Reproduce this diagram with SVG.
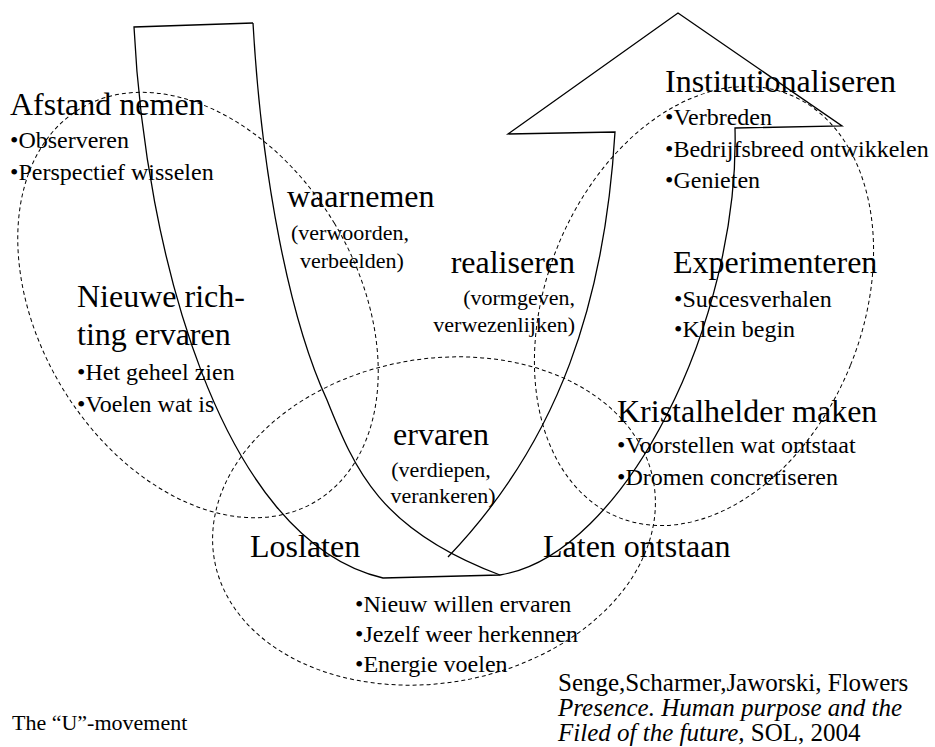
<svg xmlns="http://www.w3.org/2000/svg" width="935" height="747" viewBox="0 0 935 747">
<style>
text{font-family:"Liberation Serif","Times New Roman",serif;fill:#000}
.h{font-size:32px}
.b{font-size:24px}
.s{font-size:22px}
.r{font-size:22px}
.ref{font-size:25px}
.u{fill:none;stroke:#000;stroke-width:1.3;stroke-linejoin:miter}
.d{fill:none;stroke:#000;stroke-width:1;stroke-dasharray:4 3}
</style>
<rect width="935" height="747" fill="#fff"/>
<g id="connectors">
<path class="u" d="M253,23 L134,27 C145,250 220,540 383,578 L500,575 C625,555 740,320 735,128 L842,126 L678,13 L508,134 L615,132 C605,300 560,440 448,557"/>
<path class="u" d="M253,23 C262,180 290,320 327,400 C355,470 380,530 500,575"/>
</g>
<g id="ellipses">
<ellipse class="d" cx="198" cy="305" rx="159" ry="229" transform="rotate(-31 198 305)"/>
<ellipse class="d" cx="434" cy="521" rx="223" ry="162" transform="rotate(-10 434 521)"/>
<ellipse class="d" cx="704" cy="306" rx="158" ry="228" transform="rotate(22 704 306)"/>
</g>
<g id="afstand">
<text class="h" x="10" y="115">Afstand nemen</text>
<text class="b" x="10" y="148">•Observeren</text>
<text class="b" x="10" y="180">•Perspectief wisselen</text>
</g>
<g id="nieuwe">
<text class="h" x="77" y="307">Nieuwe rich-</text>
<text class="h" x="77" y="345">ting ervaren</text>
<text class="b" x="77" y="380">•Het geheel zien</text>
<text class="b" x="77" y="412">•Voelen wat is</text>
</g>
<g id="waarnemen">
<text class="h" x="287" y="207">waarnemen</text>
<text class="s" x="291" y="240">(verwoorden,</text>
<text class="s" x="300" y="268">verbeelden)</text>
</g>
<g id="realiseren">
<text class="h" x="575" y="273" text-anchor="end">realiseren</text>
<text class="s" x="575" y="305" text-anchor="end">(vormgeven,</text>
<text class="s" x="575" y="332" text-anchor="end">verwezenlijken)</text>
</g>
<g id="ervaren">
<text class="h" x="441" y="445" text-anchor="middle">ervaren</text>
<text class="s" x="441" y="477" text-anchor="middle">(verdiepen,</text>
<text class="s" x="443" y="503" text-anchor="middle">verankeren)</text>
</g>
<g id="loslaten">
<text class="h" x="250" y="557">Loslaten</text>
</g>
<g id="laten">
<text class="h" x="543" y="557">Laten ontstaan</text>
</g>
<g id="bottom">
<text class="b" x="355" y="612">•Nieuw willen ervaren</text>
<text class="b" x="355" y="642">•Jezelf weer herkennen</text>
<text class="b" x="355" y="672">•Energie voelen</text>
</g>
<g id="institutionaliseren">
<text class="h" x="665" y="92">Institutionaliseren</text>
<text class="b" x="665" y="125">•Verbreden</text>
<text class="b" x="665" y="157">•Bedrijfsbreed ontwikkelen</text>
<text class="b" x="665" y="188">•Genieten</text>
</g>
<g id="experimenteren">
<text class="h" x="673" y="273">Experimenteren</text>
<text class="b" x="674" y="307">•Succesverhalen</text>
<text class="b" x="674" y="337">•Klein begin</text>
</g>
<g id="kristalhelder">
<text class="h" x="617" y="422">Kristalhelder maken</text>
<text class="b" x="617" y="453">•Voorstellen wat ontstaat</text>
<text class="b" x="617" y="485">•Dromen concretiseren</text>
</g>
<g id="caption">
<text class="r" x="12" y="730">The “U”-movement</text>
</g>
<g id="reference">
<text class="ref" x="558" y="691">Senge,Scharmer,Jaworski, Flowers</text>
<text class="ref" x="558" y="716" font-style="italic">Presence. Human purpose and the</text>
<text class="ref" x="558" y="741"><tspan font-style="italic">Filed of the future,</tspan> SOL, 2004</text>
</g>
</svg>
